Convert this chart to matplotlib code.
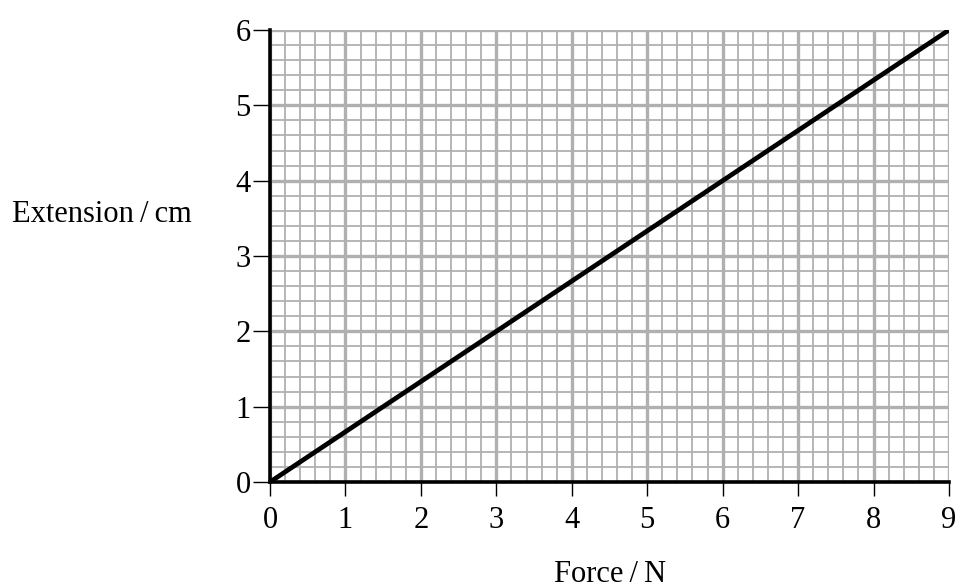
import matplotlib.pyplot as plt
from matplotlib.ticker import MultipleLocator

# data
force = [0, 9]
extension = [0, 6]
xticks = list(range(0, 10))
yticks = list(range(0, 7))

plt.rcParams['font.family'] = ['Liberation Serif', 'DejaVu Serif']

fig = plt.figure(figsize=(9.59, 5.88), dpi=100)
ax = fig.add_axes([270/959, 1 - 482/588, 679/959, 452/588])

ax.set_xlim(0, 9)
ax.set_ylim(0, 6)
ax.set_xticks(xticks)
ax.set_yticks(yticks)
ax.xaxis.set_minor_locator(MultipleLocator(0.2))
ax.yaxis.set_minor_locator(MultipleLocator(0.2))
ax.grid(which='major', color='#b0b0b0', lw=2.4)
ax.grid(which='minor', color='#b0b0b0', lw=1.3)
ax.set_axisbelow(True)
ax.tick_params(which='minor', length=0)
ax.tick_params(axis='x', which='major', direction='out', length=10, width=1, labelsize=22, pad=7)
ax.tick_params(axis='y', which='major', direction='out', length=12, width=1, labelsize=22, pad=2)

for s in ['top', 'right']:
    ax.spines[s].set_visible(False)
for s in ['left', 'bottom']:
    ax.spines[s].set_linewidth(2.6)

ax.plot(force, extension, color='black', lw=3.4, solid_capstyle='round', zorder=5)

fig.text(12/959, 1 - 215/588, 'Extension\u2009/\u2009cm', fontsize=22, ha='left', va='center')
fig.text(610/959, 1 - 574/588, 'Force\u2009/\u2009N', fontsize=22, ha='center', va='center')

fig.savefig('out.png', dpi=100)
